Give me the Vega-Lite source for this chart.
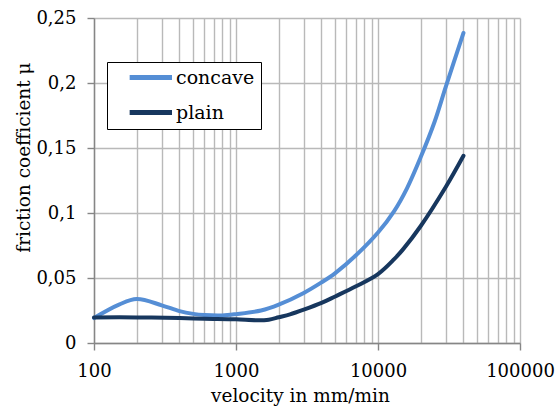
{
  "$schema": "https://vega.github.io/schema/vega-lite/v6.json",
  "width": 426,
  "height": 325,
  "autosize": {"type": "none"},
  "padding": {"left": 94, "top": 18, "right": 36, "bottom": 64},
  "background": "white",
  "config": {
    "font": "DejaVu Serif",
    "view": {"stroke": null},
    "axis": {
      "labelFont": "DejaVu Serif",
      "titleFont": "DejaVu Serif",
      "labelFontSize": 18,
      "titleFontSize": 18.5,
      "labelColor": "#000000",
      "titleColor": "#000000",
      "titleFontWeight": "normal",
      "gridColor": "#B9B9B9",
      "gridWidth": 1.4,
      "domainColor": "#868686",
      "domainWidth": 1.4,
      "tickColor": "#868686",
      "tickWidth": 1.4
    },
    "legend": {"labelFont": "DejaVu Serif"}
  },
  "data": {
    "values": [
      {"v": 100, "mu": 0.0192, "s": "concave"},
      {"v": 150, "mu": 0.0295, "s": "concave"},
      {"v": 200, "mu": 0.0338, "s": "concave"},
      {"v": 300, "mu": 0.029, "s": "concave"},
      {"v": 400, "mu": 0.0245, "s": "concave"},
      {"v": 500, "mu": 0.0224, "s": "concave"},
      {"v": 600, "mu": 0.0215, "s": "concave"},
      {"v": 800, "mu": 0.0212, "s": "concave"},
      {"v": 1000, "mu": 0.0222, "s": "concave"},
      {"v": 1500, "mu": 0.025, "s": "concave"},
      {"v": 2000, "mu": 0.0295, "s": "concave"},
      {"v": 3000, "mu": 0.0385, "s": "concave"},
      {"v": 4000, "mu": 0.0466, "s": "concave"},
      {"v": 5000, "mu": 0.0538, "s": "concave"},
      {"v": 7000, "mu": 0.0675, "s": "concave"},
      {"v": 10000, "mu": 0.085, "s": "concave"},
      {"v": 13000, "mu": 0.1015, "s": "concave"},
      {"v": 16000, "mu": 0.119, "s": "concave"},
      {"v": 20000, "mu": 0.143, "s": "concave"},
      {"v": 25000, "mu": 0.17, "s": "concave"},
      {"v": 30000, "mu": 0.197, "s": "concave"},
      {"v": 40000, "mu": 0.2385, "s": "concave"},
      {"v": 100, "mu": 0.0197, "s": "plain"},
      {"v": 200, "mu": 0.0197, "s": "plain"},
      {"v": 400, "mu": 0.0192, "s": "plain"},
      {"v": 600, "mu": 0.0187, "s": "plain"},
      {"v": 1000, "mu": 0.0182, "s": "plain"},
      {"v": 1400, "mu": 0.0175, "s": "plain"},
      {"v": 1700, "mu": 0.0179, "s": "plain"},
      {"v": 2000, "mu": 0.0198, "s": "plain"},
      {"v": 2400, "mu": 0.022, "s": "plain"},
      {"v": 3000, "mu": 0.0256, "s": "plain"},
      {"v": 4000, "mu": 0.0308, "s": "plain"},
      {"v": 5000, "mu": 0.0358, "s": "plain"},
      {"v": 7000, "mu": 0.0436, "s": "plain"},
      {"v": 10000, "mu": 0.053, "s": "plain"},
      {"v": 13000, "mu": 0.0645, "s": "plain"},
      {"v": 15000, "mu": 0.072, "s": "plain"},
      {"v": 20000, "mu": 0.09, "s": "plain"},
      {"v": 30000, "mu": 0.12, "s": "plain"},
      {"v": 40000, "mu": 0.144, "s": "plain"}
    ]
  },
  "mark": {"type": "line", "interpolate": "catmull-rom", "strokeWidth": 4, "strokeCap": "round"},
  "encoding": {
    "x": {
      "field": "v",
      "type": "quantitative",
      "scale": {"type": "log", "domain": [100, 100000], "nice": false},
      "axis": {
        "title": "velocity in mm/min",
        "values": [100,200,300,400,500,600,700,800,900,1000,2000,3000,4000,5000,6000,7000,8000,9000,10000,20000,30000,40000,50000,60000,70000,80000,90000,100000],
        "labelExpr": "indexof([100,1000,10000,100000], datum.value) >= 0 ? format(datum.value, 'd') : ''",
        "tickSize": 7,
        "tickOpacity": {"condition": {"test": "indexof([100,1000,10000,100000], datum.value) >= 0", "value": 1}, "value": 0},
        "labelPadding": 12,
        "labelFlush": false,
        "labelOverlap": false,
        "titleBaseline": "alphabetic",
        "titleX": 206,
        "titleY": 58,
        "titleAnchor": "middle"
      }
    },
    "y": {
      "field": "mu",
      "type": "quantitative",
      "scale": {"domain": [0, 0.25], "nice": false},
      "axis": {
        "title": "friction coefficient μ",
        "values": [0, 0.05, 0.1, 0.15, 0.2, 0.25],
        "labelExpr": "replace(format(datum.value, ''), '.', ',')",
        "tickSize": 7,
        "labelPadding": 11,
        "titleBaseline": "alphabetic",
        "titleAngle": -90,
        "titleX": -65,
        "titleY": 139,
        "titleAnchor": "middle"
      }
    },
    "color": {
      "field": "s",
      "type": "nominal",
      "scale": {"domain": ["concave", "plain"], "range": ["#558ED5", "#17375E"]},
      "legend": {
        "title": null,
        "orient": "none",
        "legendX": 13,
        "legendY": 44,
        "symbolType": "M1.3,0H9",
        "symbolSize": 121,
        "symbolStrokeWidth": 5,
        "labelFont": "DejaVu Serif",
        "labelFontSize": 19,
        "labelColor": "#000000",
        "labelOffset": 44,
        "rowPadding": 14,
        "padding": 6,
        "strokeColor": "#000000",
        "fillColor": "white"
      }
    }
  }
}
